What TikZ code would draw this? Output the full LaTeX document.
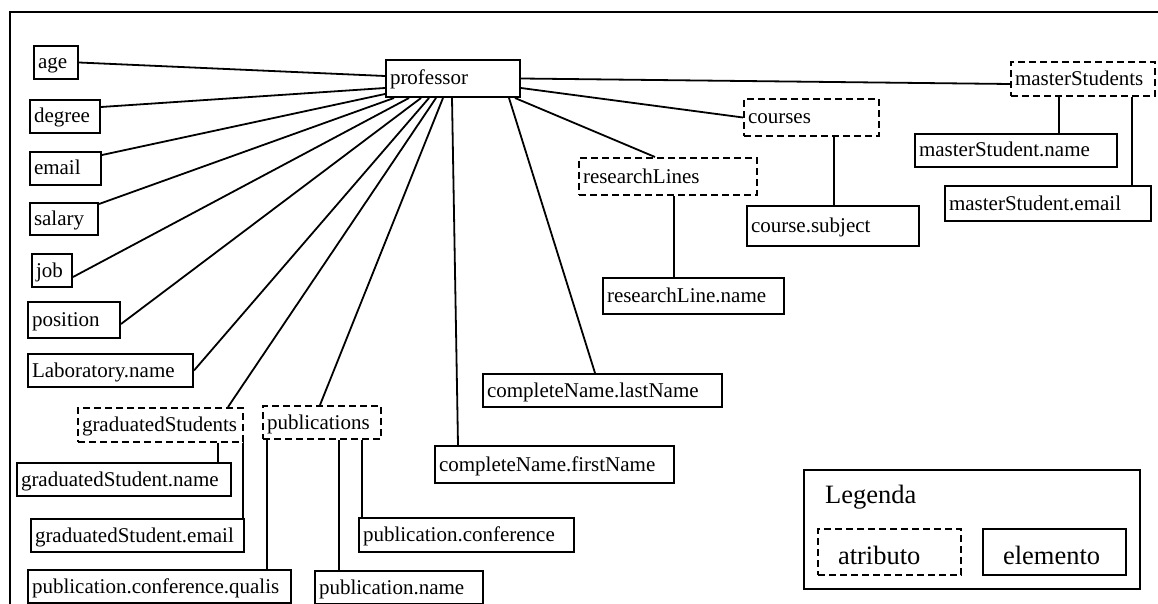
\documentclass[tikz,border=0pt]{standalone}
\usepackage{fontspec}
\setmainfont{Liberation Serif}
\usetikzlibrary{calc}
\begin{document}
\begin{tikzpicture}[x=1pt,y=-1pt]
\tikzset{
  conn/.style={line width=1.8pt},
  box/.style={draw, line width=2pt, inner xsep=4pt, inner ysep=0pt, align=left,
              font=\fontsize{21}{25}\selectfont, text height=17pt, text depth=4pt, anchor=center},
  elem/.style={box},
  attr/.style={box, dash pattern=on 7pt off 4pt},
  frame/.style={line width=2.5pt},
  legfont/.style={font=\fontsize{26.5}{30}\selectfont},
  legbox/.style={legfont, inner xsep=20pt, text width=103pt, minimum height=46pt, text height=26pt, text depth=2pt},
}
\useasboundingbox (0,0) rectangle (1158,604);
\draw[frame] (10,604) -- (10,12) -- (1158,12);

% left column
\node[elem, text width=36pt,  minimum height=33pt] (age)    at (56,62.5)   {age};
\node[elem, text width=62pt,  minimum height=33pt] (degree) at (65,116.5)  {degree};
\node[elem, text width=63pt,  minimum height=33pt] (email)  at (65.5,168.5){email};
\node[elem, text width=60pt,  minimum height=32pt] (salary) at (64,219)    {salary};
\node[elem, text width=32pt,  minimum height=33pt] (job)    at (52,270.5)  {job};
\node[elem, text width=84pt,  minimum height=36pt] (position) at (74,320)  {position};
\node[elem, text width=157pt, minimum height=33pt] (lab)    at (110.5,370.5) {Laboratory.name};

% professor
\node[elem, text width=126pt, minimum height=37pt] (prof) at (453,78.5) {professor};

% graduated students
\node[attr, text width=157pt, minimum height=34pt] (grads) at (160.5,425) {graduatedStudents};
\node[elem, text width=206pt, minimum height=33pt] (gname) at (124,479.5) {graduatedStudent.name};
\node[elem, text width=205pt, minimum height=33pt] (gemail) at (137.5,535.5) {graduatedStudent.email};

% publications
\node[attr, text width=110pt, minimum height=33pt] (pubs) at (322,422.5) {publications};
\node[elem, text width=255pt, minimum height=33pt] (pqual) at (159.5,586.5) {publication.conference.qualis};
\node[elem, text width=160pt, minimum height=33pt] (pname) at (399,587.5) {publication.name};
\node[elem, text width=207pt, minimum height=34pt] (pconf) at (466.5,535) {publication.conference};

% complete name
\node[elem, text width=231pt, minimum height=37pt] (first) at (554.5,464.5) {completeName.firstName};
\node[elem, text width=231pt, minimum height=33pt] (last)  at (602.5,390.5) {completeName.lastName};

% research lines
\node[attr, text width=170pt, minimum height=37pt] (rlines) at (668,176.5) {researchLines};
\node[elem, text width=173pt, minimum height=36pt] (rlname) at (693.5,296) {researchLine.name};

% courses
\node[attr, text width=127pt, minimum height=37pt] (courses) at (811.5,117.5) {courses};
\node[elem, text width=164pt, minimum height=40pt] (csubj) at (833,226) {course.subject};

% master students
\node[attr, text width=136pt, minimum height=34pt] (mstud) at (1083,79) {masterStudents};
\node[elem, text width=194pt, minimum height=33pt] (mname) at (1016,150.5) {masterStudent.name};
\node[elem, text width=198pt, minimum height=35pt] (memail) at (1048,203.5) {masterStudent.email};

% legend
\node[draw, line width=2pt, minimum width=336pt, minimum height=119pt, inner sep=0pt] (legend) at (972,529.5) {};
\node[legfont, anchor=west, inner sep=0pt] (legtitle) at (825,497) {Legenda};
\node[attr, legbox] (latt) at (889.5,552) {atributo};
\node[elem, legbox] (lelem) at (1054.5,552) {elemento};

% connectors from professor
\draw[conn] (age.east) -- ([yshift=2.5pt]prof.west);
\draw[conn] ([yshift=9.5pt]degree.east) -- ([yshift=-9.5pt]prof.west);
\draw[conn] ([yshift=13.5pt]email.east) -- ([yshift=-15.5pt]prof.west);
\draw[conn] ([yshift=15pt]salary.east) -- ([xshift=9pt]prof.south west);
\draw[conn] ([yshift=-6.5pt]job.east) -- ([xshift=24pt]prof.south west);
\draw[conn] ([yshift=-4pt]position.east) -- ([xshift=36pt]prof.south west);
\draw[conn] (lab.east) -- ([xshift=44pt]prof.south west);
\draw[conn] ([xshift=67.5pt]grads.north) -- ([xshift=51pt]prof.south west);
\draw[conn] ([xshift=-2pt]pubs.north) -- ([xshift=58pt]prof.south west);
\draw[conn] ([xshift=-96.5pt]first.north) -- ([xshift=67pt]prof.south west);
\draw[conn] ([xshift=-7.5pt]last.north) -- ([xshift=-12pt]prof.south east);
\draw[conn] ([xshift=-13pt]rlines.north) -- ([xshift=-6pt]prof.south east);
\draw[conn] ([yshift=-9.5pt]prof.east) -- (courses.west);
\draw[conn] (prof.east) -- ([yshift=-5pt]mstud.west);

% sub connectors
\draw[conn] ([xshift=6pt]rlines.south) -- ([xshift=6pt]rlines.south |- rlname.north);
\draw[conn] ([xshift=22.5pt]courses.south) -- ([xshift=22.5pt]courses.south |- csubj.north);
\draw[conn] ([xshift=-24pt]mstud.south) -- ([xshift=-24pt]mstud.south |- mname.north);
\draw[conn] ([xshift=49pt]mstud.south) -- ([xshift=49pt]mstud.south |- memail.north);
\draw[conn] ([xshift=57.5pt]grads.south) -- ([xshift=57.5pt]grads.south |- gname.north);
\draw[conn] ([xshift=82.5pt]grads.south) -- ([xshift=82.5pt]grads.south |- gemail.north);
\draw[conn] ([xshift=-55pt]pubs.south) -- ([xshift=-55pt]pubs.south |- pqual.north);
\draw[conn] ([xshift=17pt]pubs.south) -- ([xshift=17pt]pubs.south |- pname.north);
\draw[conn] ([xshift=40pt]pubs.south) -- ([xshift=40pt]pubs.south |- pconf.north);
\end{tikzpicture}
\end{document}
